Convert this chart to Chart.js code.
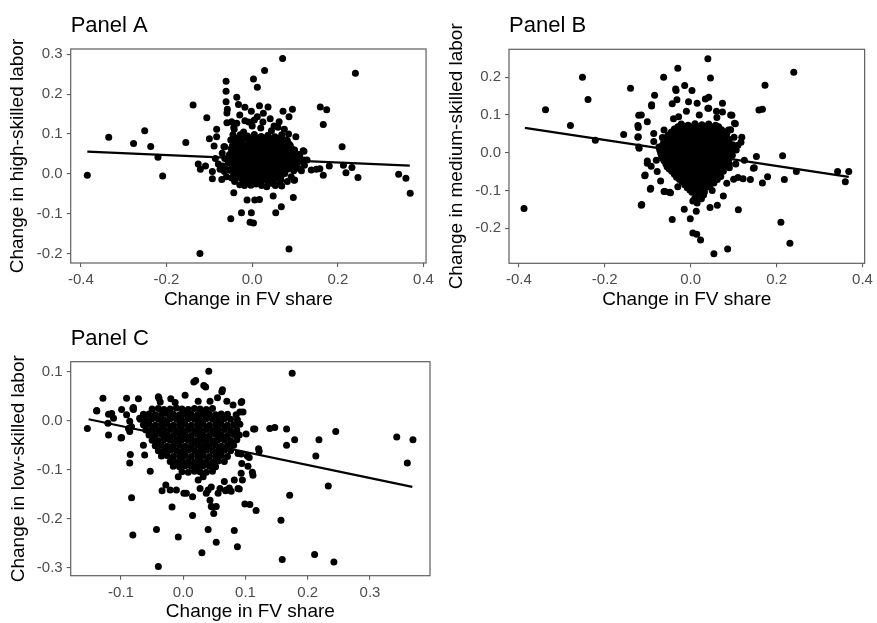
<!DOCTYPE html>
<html>
<head>
<meta charset="utf-8">
<script src="https://cdn.jsdelivr.net/npm/chart.js@4/dist/chart.umd.min.js"></script>
<style>
  body { margin: 0; background: #fff; }
  canvas { position: absolute; }
</style>
</head>
<body>
<canvas id="panelA" width="438" height="311" style="left:0;top:0"></canvas>
<canvas id="panelB" width="437" height="311" style="left:440px;top:0"></canvas>
<canvas id="panelC" width="438" height="312" style="left:0;top:311px"></canvas>
<script>
// Panel A: change in FV share vs change in high-skilled labor
const pointsA = [
  [-0.385,-0.003],[-0.335,0.092],[-0.277,0.076],[-0.251,0.108],[-0.237,0.069],[-0.220,0.042],[-0.209,-0.005],
  [-0.155,0.079],[-0.138,0.173],[-0.122,-0.199],[-0.106,0.141],[-0.100,0.088],[-0.089,0.070],[-0.083,0.112],
  [-0.083,0.093],[-0.126,0.025],[-0.121,0.012],[-0.109,0.020],[-0.093,0.006],[-0.093,-0.012],[-0.086,0.039],
  [-0.064,0.068],[-0.061,0.232],[-0.061,0.207],[-0.061,0.181],[-0.058,0.162],[-0.059,0.153],[-0.036,0.192],
  [-0.032,0.174],[-0.059,0.128],[-0.048,0.131],[-0.042,0.112],[-0.050,-0.112],[-0.043,-0.047],[-0.025,-0.097],
  [-0.012,-0.065],[-0.002,-0.097],[-0.005,-0.121],[0.003,-0.123],[0.003,0.238],[0.012,0.217],[0.029,0.259],
  [0.071,0.289],[-0.017,0.167],[-0.002,0.157],[0.017,0.171],[0.037,0.168],[0.026,0.152],[0.006,-0.065],
  [0.017,-0.064],[0.049,-0.055],[0.055,-0.097],[0.068,-0.082],[0.086,-0.188],[0.096,-0.059],[0.064,-0.026],
  [0.072,0.157],[0.086,0.143],[0.094,0.162],[0.099,-0.015],[0.102,0.093],[0.121,0.057],[0.159,0.168],
  [0.174,0.161],[0.166,0.124],[0.210,0.068],[0.180,0.020],[0.166,-0.003],[0.150,0.012],[0.138,0.010],
  [0.158,0.013],[0.213,0.022],[0.219,0.003],[0.233,0.016],[0.247,-0.009],[0.241,0.252],[0.342,-0.001],
  [0.359,-0.011],[0.369,-0.048],
  [-0.064,0.039],[-0.066,0.068],[-0.050,0.085],[-0.043,0.117],[-0.036,0.127],[-0.029,0.148],[-0.017,0.133],
  [-0.008,0.130],[0.005,0.135],[0.012,0.143],[0.025,0.130],[0.042,0.138],[0.051,0.120],[0.060,0.117],
  [0.063,0.131],[0.075,0.112],[0.078,0.085],[0.086,0.075],[0.094,0.062],[0.108,0.049],[0.120,0.035],
  [0.122,0.022],[0.109,0.014],[0.097,0.008],[0.091,-0.007],[0.082,-0.019],[0.065,-0.007],[0.054,-0.029],
  [0.045,-0.023],[0.034,-0.032],[0.022,-0.029],[0.009,-0.025],[-0.003,-0.028],[-0.018,-0.029],[-0.029,-0.027],
  [-0.041,-0.019],[-0.048,-0.010],[-0.060,-0.007],[-0.065,0.006],[-0.069,0.020],[-0.079,0.025],[-0.063,0.014],
  [-0.070,0.052],[-0.075,0.012],[-0.071,-0.014],[0.067,-0.015],[0.098,-0.016],[0.069,-0.030],[0.119,0.058],
  [0.128,0.035],[0.115,0.008],[-0.020,0.105],[0.045,0.108],[-0.030,0.090],[0.085,0.100],[0.020,0.115],
  [-0.045,0.098],[0.000,0.120],
  [-0.028,0.098],[-0.011,0.095],[0.005,0.099],[0.021,0.094],[0.037,0.097],[0.053,0.093],[0.069,0.098],
  [-0.041,0.086],[-0.024,0.083],[-0.007,0.087],[0.010,0.082],[0.026,0.086],[0.043,0.083],[0.060,0.087],[0.082,0.084],
  [-0.046,0.071],[-0.031,0.075],[-0.015,0.072],[0.001,0.074],[0.017,0.071],[0.033,0.075],[0.049,0.072],[0.066,0.074],[0.089,0.071],
  [-0.049,0.063],[-0.035,0.060],[-0.020,0.064],[-0.005,0.061],[0.010,0.063],[0.025,0.060],[0.040,0.064],[0.056,0.061],[0.073,0.063],[0.099,0.060],
  [-0.053,0.049],[-0.040,0.052],[-0.025,0.050],[-0.010,0.053],[0.004,0.049],[0.018,0.052],[0.032,0.050],[0.047,0.053],[0.062,0.049],[0.079,0.052],[0.094,0.050],[0.111,0.048],
  [-0.046,0.041],[-0.031,0.038],[-0.016,0.042],[-0.002,0.039],[0.012,0.041],[0.026,0.038],[0.040,0.042],[0.054,0.039],[0.070,0.041],[0.086,0.038],[0.104,0.040],
  [-0.056,0.029],[-0.039,0.032],[-0.023,0.028],[-0.008,0.031],[0.006,0.029],[0.020,0.032],[0.034,0.028],[0.048,0.031],[0.063,0.029],[0.078,0.032],[0.093,0.028],[0.110,0.031],
  [-0.048,0.021],[-0.031,0.018],[-0.015,0.022],[0.000,0.019],[0.014,0.021],[0.028,0.018],[0.042,0.022],[0.058,0.019],[0.072,0.021],[0.088,0.018],[0.101,0.021],
  [-0.052,0.009],[-0.037,0.012],[-0.020,0.008],[-0.005,0.011],[0.009,0.009],[0.023,0.012],[0.037,0.008],[0.052,0.011],[0.068,0.009],[0.082,0.012],
  [-0.040,0.001],[-0.026,-0.002],[-0.010,0.002],[0.004,-0.001],[0.018,0.001],[0.032,-0.002],[0.047,0.002],[0.062,-0.001],[0.076,0.001],
  [-0.030,-0.009],[-0.014,-0.012],[0.000,-0.008],[0.015,-0.011],[0.030,-0.009],[0.044,-0.012],[0.058,-0.009],
  [-0.010,-0.021],[0.006,-0.019],[0.020,-0.022],[0.036,-0.019],
  [-0.033,0.090],[-0.017,0.091],[0.000,0.089],[0.016,0.090],[0.032,0.091],[0.048,0.089],[0.064,0.090],
  [-0.040,0.079],[-0.023,0.078],[-0.007,0.080],[0.009,0.079],[0.025,0.078],[0.041,0.080],[0.058,0.079],[0.075,0.078],
  [-0.042,0.067],[-0.027,0.068],[-0.012,0.066],[0.003,0.067],[0.018,0.068],[0.033,0.066],[0.048,0.067],[0.064,0.068],[0.082,0.066],
  [-0.045,0.056],[-0.031,0.055],[-0.017,0.057],[-0.003,0.056],[0.011,0.055],[0.025,0.057],[0.040,0.056],[0.055,0.055],[0.070,0.057],[0.087,0.056],
  [-0.050,0.045],[-0.036,0.046],[-0.021,0.044],[-0.007,0.045],[0.007,0.046],[0.021,0.044],[0.035,0.045],[0.050,0.046],[0.065,0.044],[0.080,0.045],[0.097,0.046],
  [-0.047,0.035],[-0.031,0.034],[-0.016,0.036],[0.000,0.035],[0.013,0.034],[0.027,0.036],[0.041,0.035],[0.056,0.034],[0.071,0.036],[0.086,0.035],[0.101,0.034],
  [-0.040,0.025],[-0.023,0.026],[-0.008,0.024],[0.007,0.025],[0.021,0.026],[0.035,0.024],[0.050,0.025],[0.065,0.026],[0.080,0.024],[0.095,0.025],
  [-0.044,0.015],[-0.028,0.014],[-0.012,0.016],[0.002,0.015],[0.016,0.014],[0.030,0.016],[0.045,0.015],[0.060,0.014],[0.075,0.016],[0.090,0.015],
  [-0.045,0.005],[-0.030,0.006],[-0.015,0.004],[0.000,0.005],[0.014,0.006],[0.028,0.004],[0.042,0.005],[0.057,0.006],[0.070,0.004],
  [-0.035,-0.005],[-0.019,-0.004],[-0.004,-0.006],[0.011,-0.005],[0.025,-0.004],[0.040,-0.006],[0.054,-0.005],[0.068,-0.004],
  [-0.022,-0.015],[-0.006,-0.014],[0.008,-0.016],[0.023,-0.015],[0.037,-0.014],[0.051,-0.016]
];
const fitA = [[-0.385, 0.056], [0.368, 0.021]];

// Panel B: medium-skilled labor
const pointsB = [
  [-0.388,-0.148],[-0.338,0.114],[-0.280,0.072],[-0.252,0.200],[-0.239,0.141],[-0.222,0.033],[-0.156,0.048],
  [-0.140,0.171],[-0.123,0.072],[-0.121,0.099],[-0.123,0.041],[-0.121,0.015],[-0.115,-0.139],[-0.107,-0.061],
  [-0.101,-0.022],[-0.094,-0.097],[-0.091,0.124],[-0.084,0.152],[-0.063,0.200],[-0.043,-0.177],[-0.060,-0.103],
  [-0.047,-0.106],[-0.030,0.224],[-0.034,0.165],[-0.014,0.178],[-0.001,-0.175],[0.005,-0.213],[0.014,-0.216],
  [0.023,-0.231],[0.040,0.249],[0.046,0.198],[0.054,-0.268],[0.086,-0.255],[0.062,-0.139],[0.074,0.131],
  [0.111,-0.151],[0.173,0.179],[0.159,0.113],[0.167,0.115],[0.210,-0.184],[0.231,-0.240],[0.240,0.213],
  [0.214,-0.008],[0.218,-0.071],[0.246,-0.050],[0.342,-0.050],[0.368,-0.050],[0.360,-0.077],[0.179,-0.064],
  [0.167,-0.080],[0.153,-0.010],[0.146,-0.041],[0.122,-0.069],[0.139,-0.071],[0.119,0.041],[0.117,0.028],
  [0.096,0.099],[0.104,0.077],[0.093,0.061],[0.101,0.041],[0.061,0.093],[0.074,0.108],[0.042,0.147],[0.040,0.118],
  [0.003,0.165],[-0.035,0.169],[-0.091,0.127],[-0.115,0.100],[-0.101,0.082],[-0.122,0.067],[-0.122,0.042],
  [-0.120,0.012],[-0.086,0.051],[-0.086,0.030],[-0.101,-0.028],[-0.092,-0.036],[-0.106,-0.059],[-0.093,-0.094],
  [-0.114,-0.137],[-0.062,-0.103],[-0.049,-0.105],[0.076,-0.115],[0.084,-0.081],[0.100,-0.070],[0.110,-0.066],
  [0.042,0.118],[0.093,0.100],[0.102,0.078],[0.088,0.060],[0.034,0.142],[0.015,0.131],[-0.005,0.135],
  [-0.032,0.140],[-0.043,0.130],[-0.028,0.095],[-0.040,0.090],[-0.062,0.060],[-0.066,0.040],[-0.074,0.015],
  [0.148,-0.040],[-0.080,-0.020],[-0.078,-0.050],[-0.070,-0.075],[0.090,-0.040],[0.105,-0.030],[0.110,0.020],
  [0.020,0.100],[0.060,0.110],[-0.010,0.110],[0.125,-0.020],[0.013,-0.155],[-0.015,-0.150],[0.045,-0.145],
  [0.050,-0.100],[-0.030,-0.090],
  [-0.022,0.076],[-0.006,0.073],[0.010,0.077],[0.026,0.074],[0.042,0.076],[0.058,0.073],
  [-0.038,0.063],[-0.022,0.060],[-0.007,0.064],[0.008,0.061],[0.024,0.063],[0.040,0.060],[0.055,0.064],[0.072,0.061],
  [-0.052,0.047],[-0.036,0.050],[-0.021,0.046],[-0.006,0.049],[0.009,0.047],[0.024,0.050],[0.039,0.046],[0.054,0.049],[0.069,0.047],[0.084,0.050],
  [-0.060,0.035],[-0.045,0.032],[-0.030,0.036],[-0.015,0.033],[0.000,0.035],[0.015,0.032],[0.030,0.036],[0.045,0.033],[0.060,0.035],[0.075,0.032],[0.090,0.035],
  [-0.066,0.019],[-0.051,0.022],[-0.036,0.018],[-0.021,0.021],[-0.006,0.019],[0.009,0.022],[0.024,0.018],[0.039,0.021],[0.054,0.019],[0.069,0.022],[0.084,0.018],[0.098,0.021],
  [-0.072,0.007],[-0.057,0.004],[-0.042,0.008],[-0.027,0.005],[-0.012,0.007],[0.003,0.004],[0.018,0.008],[0.033,0.005],[0.048,0.007],[0.063,0.004],[0.078,0.008],[0.093,0.005],[0.106,0.007],
  [-0.068,-0.009],[-0.053,-0.006],[-0.038,-0.010],[-0.023,-0.007],[-0.008,-0.009],[0.007,-0.006],[0.022,-0.010],[0.037,-0.007],[0.052,-0.009],[0.067,-0.006],[0.082,-0.010],[0.097,-0.007],
  [-0.062,-0.021],[-0.047,-0.024],[-0.032,-0.020],[-0.017,-0.023],[-0.002,-0.021],[0.013,-0.024],[0.028,-0.020],[0.043,-0.023],[0.058,-0.021],[0.073,-0.024],[0.088,-0.020],
  [-0.055,-0.037],[-0.040,-0.034],[-0.025,-0.038],[-0.010,-0.035],[0.005,-0.037],[0.020,-0.034],[0.035,-0.038],[0.050,-0.035],[0.065,-0.037],[0.080,-0.034],
  [-0.044,-0.049],[-0.029,-0.052],[-0.014,-0.048],[0.001,-0.051],[0.016,-0.049],[0.031,-0.052],[0.046,-0.048],[0.061,-0.051],[0.076,-0.049],
  [-0.033,-0.065],[-0.018,-0.062],[-0.003,-0.066],[0.012,-0.063],[0.027,-0.065],[0.042,-0.062],[0.057,-0.066],[0.070,-0.063],
  [-0.020,-0.077],[-0.005,-0.080],[0.010,-0.076],[0.025,-0.079],[0.040,-0.077],[0.054,-0.080],
  [-0.008,-0.093],[0.007,-0.090],[0.022,-0.094],[0.037,-0.091],
  [0.003,-0.105],[0.018,-0.108],[0.032,-0.104],[0.010,-0.119],[0.025,-0.122],[0.015,-0.133],[0.005,-0.128],[0.030,-0.112],
  [-0.030,0.069],[-0.014,0.070],[0.002,0.068],[0.018,0.069],[0.034,0.070],[0.050,0.068],[0.065,0.069],
  [-0.045,0.055],[-0.030,0.056],[-0.014,0.054],[0.001,0.055],[0.016,0.056],[0.032,0.054],[0.047,0.055],[0.062,0.056],[0.078,0.054],
  [-0.056,0.041],[-0.041,0.042],[-0.026,0.040],[-0.011,0.041],[0.004,0.042],[0.019,0.040],[0.034,0.041],[0.049,0.042],[0.064,0.040],[0.079,0.041],
  [-0.063,0.027],[-0.048,0.028],[-0.033,0.026],[-0.018,0.027],[-0.003,0.028],[0.012,0.026],[0.027,0.027],[0.042,0.028],[0.057,0.026],[0.072,0.027],[0.087,0.028],
  [-0.069,0.013],[-0.054,0.014],[-0.039,0.012],[-0.024,0.013],[-0.009,0.014],[0.006,0.012],[0.021,0.013],[0.036,0.014],[0.051,0.012],[0.066,0.013],[0.081,0.014],[0.096,0.012],
  [-0.070,-0.001],[-0.055,0.000],[-0.040,-0.002],[-0.025,-0.001],[-0.010,0.000],[0.005,-0.002],[0.020,-0.001],[0.035,0.000],[0.050,-0.002],[0.065,-0.001],[0.080,0.000],[0.095,-0.002],
  [-0.065,-0.015],[-0.050,-0.014],[-0.035,-0.016],[-0.020,-0.015],[-0.005,-0.014],[0.010,-0.016],[0.025,-0.015],[0.040,-0.014],[0.055,-0.016],[0.070,-0.015],[0.085,-0.014],
  [-0.058,-0.029],[-0.043,-0.030],[-0.028,-0.028],[-0.013,-0.029],[0.002,-0.030],[0.017,-0.028],[0.032,-0.029],[0.047,-0.030],[0.062,-0.028],[0.077,-0.029],[0.090,-0.030],
  [-0.050,-0.043],[-0.035,-0.042],[-0.020,-0.044],[-0.005,-0.043],[0.010,-0.042],[0.025,-0.044],[0.040,-0.043],[0.055,-0.042],[0.070,-0.044],
  [-0.038,-0.057],[-0.023,-0.056],[-0.008,-0.058],[0.007,-0.057],[0.022,-0.056],[0.037,-0.058],[0.052,-0.057],[0.066,-0.056],
  [-0.026,-0.071],[-0.011,-0.070],[0.004,-0.072],[0.019,-0.071],[0.034,-0.070],[0.048,-0.072],[0.062,-0.071],
  [-0.014,-0.085],[0.001,-0.084],[0.016,-0.086],[0.031,-0.085],[0.045,-0.084],
  [-0.002,-0.099],[0.013,-0.098],[0.027,-0.100]
];
const fitB = [[-0.386, 0.066], [0.368, -0.064]];

// Panel C: low-skilled labor
const pointsC = [
  [-0.154,-0.016],[-0.139,0.020],[-0.129,0.046],[-0.120,-0.029],[-0.100,-0.035],[-0.091,0.046],[-0.072,0.045],
  [-0.081,0.025],[-0.085,-0.069],[-0.086,-0.086],[-0.083,-0.157],[-0.081,-0.233],[-0.053,-0.103],[-0.043,-0.222],
  [-0.040,-0.297],[-0.039,0.046],[-0.018,-0.176],[-0.008,-0.237],[0.015,-0.193],[0.030,-0.269],[0.040,-0.222],
  [0.053,-0.248],[0.041,0.101],[0.020,0.082],[0.033,0.072],[0.063,0.063],[0.082,-0.224],[0.087,-0.257],
  [0.099,-0.170],[0.107,-0.171],[0.117,-0.183],[0.111,-0.105],[0.094,0.039],[0.121,-0.057],[0.115,-0.017],
  [0.139,-0.016],[0.147,-0.014],[0.157,-0.203],[0.159,-0.283],[0.166,-0.017],[0.166,-0.050],[0.179,-0.039],
  [0.171,-0.152],[0.175,0.097],[0.211,-0.273],[0.213,-0.072],[0.218,-0.039],[0.233,-0.133],[0.242,-0.288],
  [0.245,-0.022],[0.343,-0.033],[0.360,-0.086],[0.369,-0.039],
  [-0.139,0.021],[-0.120,0.013],[-0.112,0.005],[-0.099,0.023],[-0.091,0.012],[-0.086,-0.001],[-0.080,0.027],
  [-0.099,-0.034],[-0.083,-0.012],[-0.070,0.005],[-0.062,-0.009],[-0.064,-0.050],[-0.062,-0.070],[-0.115,0.015],
  [-0.121,-0.005],[-0.080,0.023],[-0.088,-0.016],[-0.086,-0.022],[-0.064,0.008],[-0.040,0.049],[-0.013,0.037],
  [0.080,0.032],[0.091,0.018],[0.088,-0.067],[0.094,-0.087],[0.103,-0.072],[0.074,-0.137],[0.088,-0.138],
  [0.059,-0.138],[0.068,-0.143],[0.047,-0.176],[0.049,-0.189],[0.001,-0.148],[-0.011,-0.141],[-0.028,-0.131],
  [-0.021,-0.141],[-0.034,-0.143],[-0.008,-0.114],[0.015,-0.155],[0.032,-0.114],[0.045,-0.135],[0.037,-0.148],
  [0.027,-0.138],[0.005,-0.148],[0.024,-0.121],[0.043,-0.162],[0.045,-0.175],[0.053,-0.175],[0.040,-0.141],
  [0.056,-0.148],[0.069,-0.141],[0.077,-0.144],[0.090,-0.139],[0.066,-0.124],[0.082,-0.121],[0.095,-0.121],
  [0.093,-0.107],[0.104,-0.093],[0.112,-0.111],[0.106,-0.075],[0.122,-0.062],[0.093,-0.068],[0.101,-0.027],
  [0.113,-0.017],[0.093,0.037],[0.096,0.018],[0.043,0.040],[0.024,0.040],[0.017,0.079],[0.036,0.069],
  [0.062,0.059],[-0.037,0.038],[0.055,0.047],[0.070,0.040],[-0.020,0.045],[0.003,0.052],
  [-0.050,0.024],[-0.040,0.025],[-0.031,0.023],[-0.021,0.024],[-0.011,0.026],[-0.002,0.024],[0.008,0.023],[0.018,0.025],[0.027,0.024],[0.037,0.023],[0.047,0.025],
  [-0.064,0.013],[-0.055,0.014],[-0.045,0.012],[-0.035,0.013],[-0.026,0.015],[-0.016,0.013],[-0.006,0.012],[0.003,0.014],[0.013,0.013],[0.023,0.012],[0.032,0.014],[0.042,0.013],[0.052,0.012],[0.061,0.014],[0.071,0.013],[0.085,0.012],
  [-0.069,0.003],[-0.060,0.002],[-0.050,0.004],[-0.040,0.003],[-0.031,0.002],[-0.021,0.004],[-0.011,0.003],[-0.002,0.002],[0.008,0.004],[0.018,0.003],[0.027,0.002],[0.037,0.004],[0.047,0.003],[0.056,0.002],[0.066,0.004],[0.076,0.003],[0.087,0.002],
  [-0.064,-0.008],[-0.055,-0.007],[-0.045,-0.009],[-0.035,-0.008],[-0.026,-0.007],[-0.016,-0.009],[-0.006,-0.008],[0.003,-0.007],[0.013,-0.009],[0.023,-0.008],[0.032,-0.007],[0.042,-0.009],[0.052,-0.008],[0.061,-0.007],[0.071,-0.009],[0.081,-0.008],[0.091,-0.007],
  [-0.060,-0.019],[-0.050,-0.018],[-0.040,-0.020],[-0.031,-0.019],[-0.021,-0.018],[-0.011,-0.020],[-0.002,-0.019],[0.008,-0.018],[0.018,-0.020],[0.027,-0.019],[0.037,-0.018],[0.047,-0.020],[0.056,-0.019],[0.066,-0.018],[0.076,-0.020],[0.086,-0.019],
  [-0.055,-0.029],[-0.045,-0.030],[-0.035,-0.028],[-0.026,-0.029],[-0.016,-0.030],[-0.006,-0.028],[0.003,-0.029],[0.013,-0.030],[0.023,-0.028],[0.032,-0.029],[0.042,-0.030],[0.052,-0.028],[0.061,-0.029],[0.071,-0.030],[0.081,-0.028],[0.090,-0.029],
  [-0.050,-0.040],[-0.040,-0.041],[-0.031,-0.039],[-0.021,-0.040],[-0.011,-0.041],[-0.002,-0.039],[0.008,-0.040],[0.018,-0.041],[0.027,-0.039],[0.037,-0.040],[0.047,-0.041],[0.056,-0.039],[0.066,-0.040],[0.076,-0.041],[0.086,-0.039],
  [-0.045,-0.051],[-0.035,-0.050],[-0.026,-0.052],[-0.016,-0.051],[-0.006,-0.050],[0.003,-0.052],[0.013,-0.051],[0.023,-0.050],[0.032,-0.052],[0.042,-0.051],[0.052,-0.050],[0.061,-0.052],[0.071,-0.051],[0.081,-0.050],
  [-0.040,-0.061],[-0.031,-0.062],[-0.021,-0.060],[-0.011,-0.061],[-0.002,-0.062],[0.008,-0.060],[0.018,-0.061],[0.027,-0.062],[0.037,-0.060],[0.047,-0.061],[0.056,-0.062],[0.066,-0.060],[0.076,-0.061],
  [-0.035,-0.072],[-0.026,-0.071],[-0.016,-0.073],[-0.006,-0.072],[0.003,-0.071],[0.013,-0.073],[0.023,-0.072],[0.032,-0.071],[0.042,-0.073],[0.052,-0.072],[0.061,-0.071],[0.071,-0.073],
  [-0.021,-0.083],[-0.011,-0.084],[-0.002,-0.082],[0.008,-0.083],[0.018,-0.084],[0.027,-0.082],[0.037,-0.083],[0.047,-0.084],[0.056,-0.082],[0.066,-0.083],
  [-0.016,-0.093],[-0.006,-0.094],[0.003,-0.092],[0.013,-0.093],[0.023,-0.094],[0.032,-0.092],[0.042,-0.093],[0.052,-0.094],
  [-0.002,-0.104],[0.008,-0.105],[0.018,-0.103],[0.027,-0.104],[0.037,-0.105],[0.047,-0.103]
];
const fitC = [[-0.152, 0.003], [0.368, -0.135]];

const xTicksAB = [-0.4, -0.2, 0, 0.2, 0.4];
const yTicksA = [-0.2, -0.1, 0, 0.1, 0.2, 0.3];
const yTicksB = [-0.2, -0.1, 0, 0.1, 0.2];
const xTicksC = [-0.1, 0, 0.1, 0.2, 0.3];
const yTicksC = [-0.3, -0.2, -0.1, 0, 0.1];

const FONT = "'Liberation Sans', Arial, sans-serif";
const AXIS_GREY = '#5e5e5e';

// ggplot-like panel border around the plotting area
const panelBorder = {
  id: 'panelBorder',
  afterDatasetsDraw(chart) {
    const { ctx, chartArea: a } = chart;
    ctx.save();
    ctx.strokeStyle = AXIS_GREY;
    ctx.lineWidth = 1.2;
    ctx.strokeRect(a.left, a.top, a.right - a.left, a.bottom - a.top);
    ctx.restore();
  }
};

function toXY(pairs) {
  return pairs.map(([x, y]) => ({ x, y }));
}

function axis(title, range, ticks, titlePad, fitSize, horizontal) {
  return {
    type: 'linear',
    min: range[0],
    max: range[1],
    afterBuildTicks: (s) => { s.ticks = ticks.map((v) => ({ value: v })); },
    afterFit: (s) => { if (horizontal) s.height = fitSize; else s.width = fitSize; },
    grid: { drawOnChartArea: false, drawTicks: true, tickLength: 4, color: AXIS_GREY, lineWidth: 1.1 },
    border: { display: false },
    ticks: {
      color: '#4d4d4d',
      font: { family: FONT, size: 15 },
      padding: 4,
      callback: (v) => v.toFixed(1),
    },
    title: {
      display: true,
      text: title,
      color: '#000',
      font: { family: FONT, size: 19 },
      padding: { top: titlePad, bottom: 0 },
    },
  };
}

function drawPanel(id, cfg) {
  new Chart(document.getElementById(id), {
    type: 'scatter',
    data: {
      datasets: [
        {
          data: toXY(cfg.fit),
          showLine: true,
          borderColor: '#000',
          borderWidth: 2.2,
          pointRadius: 0,
        },
        {
          data: toXY(cfg.points),
          backgroundColor: '#000',
          borderWidth: 0,
          pointRadius: 3.5,
        },
      ],
    },
    options: {
      responsive: false,
      animation: false,
      devicePixelRatio: 1,
      layout: { padding: { left: 0, right: cfg.padRight, top: 0, bottom: 0 } },
      plugins: {
        legend: { display: false },
        tooltip: { enabled: false },
        title: {
          display: true,
          text: cfg.title,
          align: 'start',
          fullSize: false,
          color: '#000',
          font: { family: FONT, size: 22, weight: 'normal' },
          padding: { top: cfg.titleTop, bottom: cfg.titleBottom },
        },
      },
      scales: {
        x: axis('Change in FV share', cfg.xRange, cfg.xTicks, 0, cfg.xHeight, true),
        y: axis(cfg.yTitle, cfg.yRange, cfg.yTicks, cfg.yTitlePad, cfg.yWidth, false),
      },
    },
    plugins: [panelBorder],
  });
}

drawPanel('panelA', {
  title: 'Panel A', yTitle: 'Change in high-skilled labor',
  points: pointsA, fit: fitA,
  xRange: [-0.4238, 0.406], yRange: [-0.223, 0.313],
  xTicks: xTicksAB, yTicks: yTicksA,
  padRight: 8, yWidth: 70.7, xHeight: 48, yTitlePad: 6.6,
  titleTop: 12.8, titleBottom: 9.8,
});

drawPanel('panelB', {
  title: 'Panel B', yTitle: 'Change in medium-skilled labor',
  points: pointsB, fit: fitB,
  xRange: [-0.423, 0.405], yRange: [-0.293, 0.274],
  xTicks: xTicksAB, yTicks: yTicksB,
  padRight: 9.7, yWidth: 69, xHeight: 47.7, yTitlePad: 5.3,
  titleTop: 12.8, titleBottom: 10.1,
});

drawPanel('panelC', {
  title: 'Panel C', yTitle: 'Change in low-skilled labor',
  points: pointsC, fit: fitC,
  xRange: [-0.1808, 0.3964], yRange: [-0.316, 0.1204],
  xTicks: xTicksC, yTicks: yTicksC,
  padRight: 8, yWidth: 70.7, xHeight: 47.3, yTitlePad: 6.9,
  titleTop: 14.8, titleBottom: 9.5,
});
</script>
</body>
</html>
